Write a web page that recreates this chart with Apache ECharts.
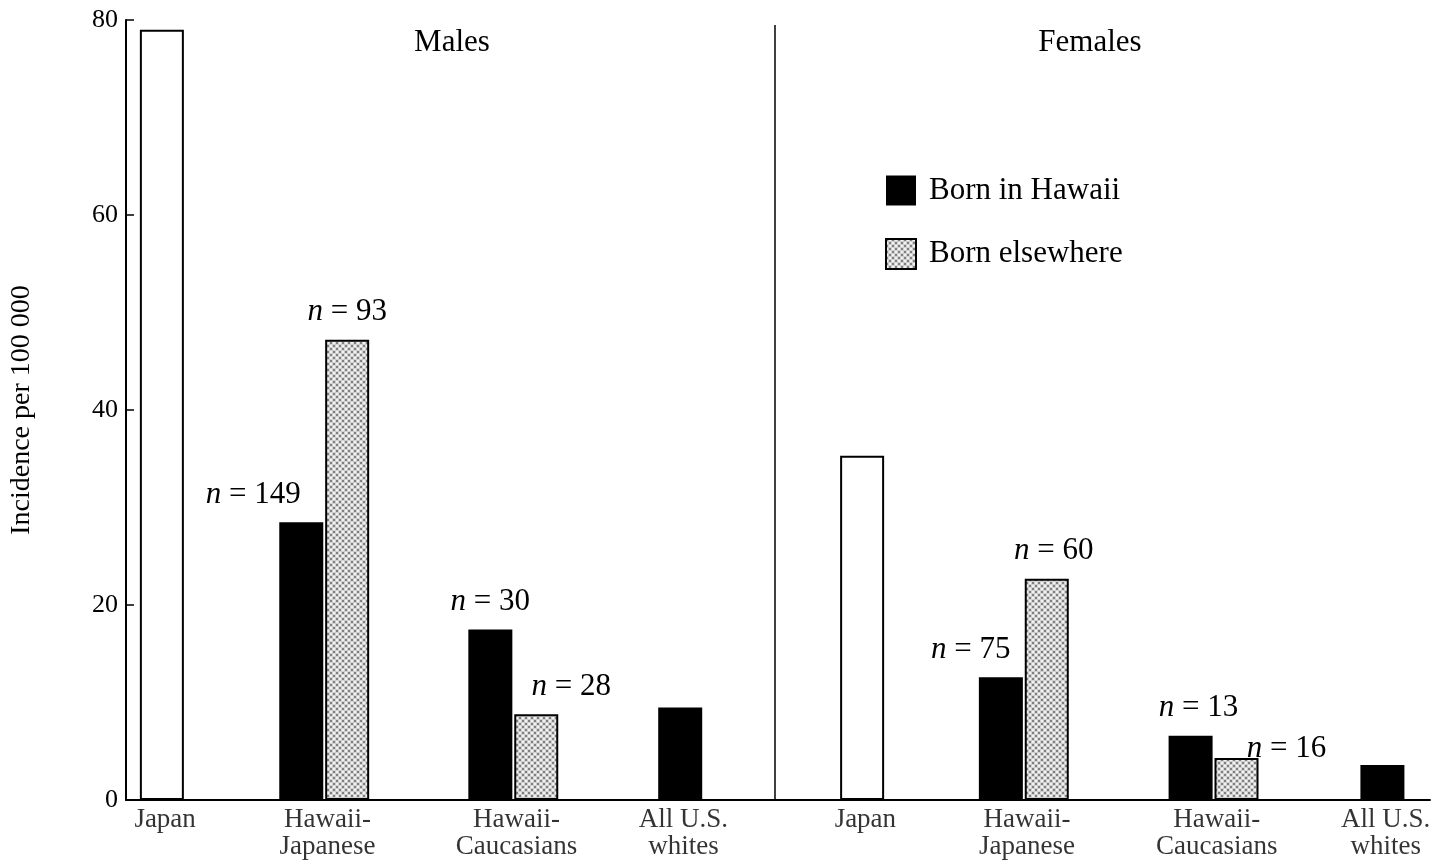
<!DOCTYPE html>
<html lang="en" style="height: 100%">
<head>
  <meta charset="utf-8">
</head>
<body style="height: 100%; margin: 0; background: #fff">
  <div id="container" style="height: 100%"></div>
  <script type="text/javascript" src="https://cdn.jsdelivr.net/npm/echarts@6/dist/echarts.min.js"></script>
  <script type="text/javascript">
// group labels and their positions on a 0-100 x scale
const groupLabels = ['Japan', 'Hawaii-\nJapanese', 'Hawaii-\nCaucasians', 'All U.S.\nwhites',
                     'Japan', 'Hawaii-\nJapanese', 'Hawaii-\nCaucasians', 'All U.S.\nwhites'];
const groupPos = [3.0, 15.45, 29.95, 42.75, 56.7, 69.1, 83.65, 96.6];
// bars: group index, kind (0 = native/white, 1 = born in Hawaii, 2 = born elsewhere)
const barGroup = [0, 1, 1, 2, 2, 3, 4, 5, 5, 6, 6, 7];
const barKind  = [0, 1, 2, 1, 2, 1, 0, 1, 2, 1, 2, 1];
const barValue = [79, 28.5, 47.2, 17.5, 8.8, 9.5, 35.3, 12.6, 22.7, 6.6, 4.3, 3.6];
const barN     = [null, 149, 93, 30, 28, null, null, 75, 60, 13, 16, null];
const yTicks = [0, 20, 40, 60, 80];
const dividerX = 50.0;

const pc = document.createElement('canvas');
pc.width = pc.height = 6;
const p = pc.getContext('2d');
p.fillStyle = '#d0d0d0'; p.fillRect(0, 0, 6, 6);
p.fillStyle = '#808080';
p.fillRect(0, 0, 2, 2); p.fillRect(3, 3, 2, 2);
p.fillStyle = '#f2f2f2';
p.fillRect(3, 0, 2, 2); p.fillRect(0, 3, 2, 2);
const grayPattern = { image: pc, repeat: 'repeat' };

const fills = ['#fff', '#000', grayPattern];
const labelOffsets = {1: [-48, 0], 4: [35, 0], 7: [-30, 0], 8: [7, 0], 9: [8, 0], 10: [50, 18]};

var dom = document.getElementById('container');
var myChart = echarts.init(dom, null, { renderer: 'canvas' });
const font = "'Liberation Serif', 'DejaVu Serif', serif";

const barData = barValue.map(function (v, i) {
  let d = barKind[i] === 2 ? 1.76 : (barKind[i] === 1 ? -1.76 : 0);
  if (barKind[i] === 1 && (barGroup[i] === 3 || barGroup[i] === 7)) d = 0;
  return {
    value: [groupPos[barGroup[i]] + d, v],
    itemStyle: { color: fills[barKind[i]], borderColor: '#000', borderWidth: 2 },
    label: barN[i] == null ? { show: false } : {
      show: true, position: 'top', distance: 12,
      offset: labelOffsets[i] || [0, 0],
      formatter: '{i|n} = ' + barN[i]
    }
  };
});

var option = {
  animation: false,
  backgroundColor: '#fff',
  textStyle: { fontFamily: font },
  title: [
    { text: 'Males', left: 447, top: 22, textAlign: 'center',
      textStyle: { fontFamily: font, fontSize: 31, fontWeight: 'normal', color: '#000' } },
    { text: 'Females', left: 1085, top: 22, textAlign: 'center',
      textStyle: { fontFamily: font, fontSize: 31, fontWeight: 'normal', color: '#000' } }
  ],
  legend: {
    orient: 'vertical', left: 880, top: 170, itemWidth: 30, itemHeight: 30, itemGap: 32,
    icon: 'rect',
    data: ['Born in Hawaii', 'Born elsewhere'],
    textStyle: { fontFamily: font, fontSize: 31, color: '#000', padding: [0, 0, 0, 8] }
  },
  grid: { left: 122, right: 9, top: 20, bottom: 67 },
  xAxis: {
    type: 'value', min: 0, max: 100,
    axisLine: { show: true, lineStyle: { color: '#000', width: 2 } },
    axisTick: { show: false }, axisLabel: { show: false }, splitLine: { show: false }
  },
  yAxis: {
    type: 'value', min: yTicks[0], max: yTicks[yTicks.length - 1], interval: 20,
    name: 'Incidence per 100 000', nameLocation: 'middle', nameGap: 90,
    nameTextStyle: { fontFamily: font, fontSize: 28, color: '#000' },
    axisLine: { show: true, lineStyle: { color: '#000', width: 2 } },
    axisTick: { show: true, inside: true, length: 8, lineStyle: { color: '#000', width: 1.5 } },
    axisLabel: { fontFamily: font, fontSize: 26, color: '#000', margin: 8 },
    splitLine: { show: false }
  },
  series: [
    {
      type: 'bar', barWidth: 44, data: barData, z: 3,
      label: { fontFamily: font, fontSize: 31, color: '#000',
        rich: { i: { fontFamily: font, fontStyle: 'italic', fontSize: 31, color: '#000' } } },
      markLine: {
        silent: true, symbol: 'none', label: { show: false },
        lineStyle: { color: '#000', width: 1.5, type: 'solid' },
        data: [[{ coord: [dividerX, 0] }, { coord: [dividerX, 79.5] }]]
      }
    },
    { type: 'bar', name: 'Born in Hawaii', data: [], itemStyle: { color: '#000', borderColor: '#000' } },
    { type: 'bar', name: 'Born elsewhere', data: [], itemStyle: { color: grayPattern, borderColor: '#000', borderWidth: 2 } },
    {
      type: 'scatter', symbolSize: 0, silent: true,
      data: groupPos.map(function (x, i) { return { value: [x, 0], name: groupLabels[i] }; }),
      label: { show: true, position: 'bottom', distance: 6, formatter: '{b}',
        fontFamily: font, fontSize: 27, lineHeight: 27, color: '#000' }
    }
  ]
};
myChart.setOption(option);
window.addEventListener('resize', myChart.resize);
  </script>
</body>
</html>
